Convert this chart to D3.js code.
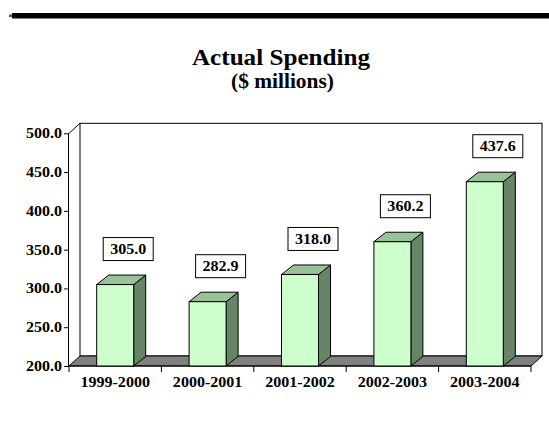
<!DOCTYPE html>
<html>
<head>
<meta charset="utf-8">
<script src="https://cdn.jsdelivr.net/npm/d3@7"></script>
<style>
  body { margin: 0; background: #fff; }
  text { font-family: "Liberation Serif", "Times New Roman", serif; font-weight: bold; fill: #000; }
</style>
</head>
<body>
<div id="chart"></div>
<script>
// chart values
const categories = ['1999-2000', '2000-2001', '2001-2002', '2002-2003', '2003-2004'];
const spending = [305.0, 282.9, 318.0, 360.2, 437.6];
const yTicks = [200, 250, 300, 350, 400, 450, 500];

const width = 549, height = 444;
const plot = { left: 69, right: 531, top: 133.3, bottom: 366 };
const wallDepth = { dx: 11, dy: -10 };
const barDepth = { dx: 12, dy: -9.5 };
const stretch = 1.07; // text in the picture is a little wide

const svg = d3.select('#chart').append('svg')
    .attr('width', width)
    .attr('height', height);

svg.append('rect').attr('width', width).attr('height', height).attr('fill', '#fff');

// heavy rule at the top
svg.append('rect').attr('x', 9).attr('y', 14.5).attr('width', 4).attr('height', 2.5).attr('fill', '#555');
svg.append('rect').attr('x', 12).attr('y', 13).attr('width', width - 12).attr('height', 5.5).attr('fill', '#000');

function addText(g, x, y, str, size, anchor) {
    return g.append('text')
        .attr('transform', `translate(${x},${y}) scale(${stretch},1)`)
        .attr('font-size', size + 'px')
        .attr('text-anchor', anchor || 'middle')
        .text(str);
}

addText(svg, 281, 64.5, 'Actual Spending', 23.5);
addText(svg, 282.5, 88, '($ millions)', 20);

const x = d3.scaleBand().domain(categories).range([plot.left, plot.right]).padding(0);
const y = d3.scaleLinear().domain([200, 500]).range([plot.bottom, plot.top]);

const g = svg.append('g');

// back wall
const wx0 = plot.left + wallDepth.dx, wx1 = plot.right + wallDepth.dx;
const wy0 = y(500) + wallDepth.dy, wy1 = y(200) + wallDepth.dy;
g.append('rect')
    .attr('x', wx0).attr('y', wy0)
    .attr('width', wx1 - wx0).attr('height', wy1 - wy0)
    .attr('fill', '#fff').attr('stroke', '#000').attr('stroke-width', 1);

// left wall top edge
g.append('line')
    .attr('x1', plot.left).attr('y1', y(500))
    .attr('x2', wx0).attr('y2', wy0)
    .attr('stroke', '#000');

// floor
const floor = [[plot.left, y(200)], [wx0, wy1], [wx1, wy1], [plot.right, y(200)]];
g.append('path')
    .attr('d', d3.line()(floor) + 'Z')
    .attr('fill', '#808080').attr('stroke', '#000').attr('stroke-width', 1);

// y axis
const yAxis = d3.axisLeft(y).tickValues(yTicks).tickSize(5).tickFormat(d3.format('.1f'));
const ya = g.append('g').attr('transform', `translate(${plot.left},0)`).call(yAxis);
ya.select('.domain').attr('d', `M-0.5,${y(200)}V${y(500)}`).attr('stroke', '#000');
ya.selectAll('.tick line').attr('stroke', '#000');
ya.selectAll('.tick text').remove();
yTicks.forEach(v => addText(g, plot.left - 7, y(v) + 5, d3.format('.1f')(v), 15, 'end'));

// x axis ticks at category boundaries
const bounds = categories.map(c => x(c)).concat([plot.right]);
g.selectAll('.xtick').data(bounds).enter().append('line')
    .attr('class', 'xtick')
    .attr('x1', d => d).attr('x2', d => d)
    .attr('y1', y(200)).attr('y2', y(200) + 6)
    .attr('stroke', '#000');
g.append('line')
    .attr('x1', plot.left).attr('x2', plot.right)
    .attr('y1', y(200)).attr('y2', y(200))
    .attr('stroke', '#000');
categories.forEach(c => addText(g, x(c) + x.bandwidth() / 2, y(200) + 21, c, 15));

// bars
const barW = 37;
const bars = g.selectAll('.bar').data(spending).enter().append('g').attr('class', 'bar');
bars.each(function(v, i) {
    const b = d3.select(this);
    const x0 = x(categories[i]) + (x.bandwidth() - barW) / 2, x1 = x0 + barW;
    const yt = y(v), yb = y(200);
    const dx = barDepth.dx, dy = barDepth.dy;
    // side
    b.append('path')
        .attr('d', d3.line()([[x1, yb], [x1 + dx, yb + dy], [x1 + dx, yt + dy], [x1, yt]]) + 'Z')
        .attr('fill', '#668566').attr('stroke', '#000').attr('stroke-width', 1);
    // top
    b.append('path')
        .attr('d', d3.line()([[x0, yt], [x0 + dx, yt + dy], [x1 + dx, yt + dy], [x1, yt]]) + 'Z')
        .attr('fill', '#99c299').attr('stroke', '#000').attr('stroke-width', 1);
    // front
    b.append('rect')
        .attr('x', x0).attr('y', yt).attr('width', barW).attr('height', yb - yt)
        .attr('fill', '#ccffcc').attr('stroke', '#000').attr('stroke-width', 1);

    // value label box
    const cx = x0 + barW / 2 + 13, bottom = yt - 24;
    b.append('rect')
        .attr('x', cx - 25).attr('y', bottom - 23).attr('width', 50).attr('height', 23)
        .attr('fill', '#fff').attr('stroke', '#000').attr('stroke-width', 1);
    addText(b, cx, bottom - 6.5, d3.format('.1f')(v), 15);
});
</script>
</body>
</html>
